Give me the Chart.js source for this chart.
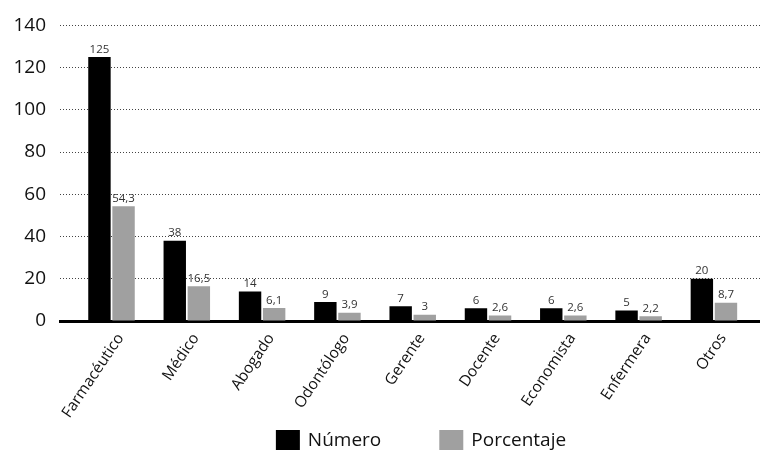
<!DOCTYPE html>
<html>
<head>
<meta charset="utf-8">
<script src="https://cdn.jsdelivr.net/npm/chart.js@4/dist/chart.umd.min.js"></script>
<style>
  html, body { margin: 0; padding: 0; background: #fff; }
  #wrap { width: 760px; height: 450px; position: relative; }
</style>
</head>
<body>
<div id="wrap"><canvas id="c" width="760" height="450"></canvas></div>
<script>
// Profesiones y sus valores
const categorias = ['Farmacéutico', 'Médico', 'Abogado', 'Odontólogo', 'Gerente', 'Docente', 'Economista', 'Enfermera', 'Otros'];
const numero = [125, 38, 14, 9, 7, 6, 6, 5, 20];
const porcentaje = [54.3, 16.5, 6.1, 3.9, 3, 2.6, 2.6, 2.2, 8.7];
const yTicks = [0, 20, 40, 60, 80, 100, 120, 140];
const nombresSeries = ['Número', 'Porcentaje'];
const colores = ['#000000', '#a0a0a0'];

const FONT = '"Open Sans", "Noto Sans", sans-serif';

const fmt = v => String(v).replace('.', ',');

// Value labels above each bar
const etiquetas = {
  id: 'etiquetas',
  afterDatasetsDraw(chart) {
    const ctx = chart.ctx;
    ctx.save();
    ctx.font = '400 11.5px ' + FONT;
    ctx.fillStyle = '#333';
    ctx.textAlign = 'center';
    ctx.textBaseline = 'bottom';
    chart.data.datasets.forEach((ds, di) => {
      chart.getDatasetMeta(di).data.forEach((bar, i) => {
        ctx.fillText(fmt(ds.data[i].y), bar.x, bar.y - 2);
      });
    });
    ctx.restore();
  }
};

// Legend below the axis labels
const leyenda = {
  id: 'leyenda',
  afterDraw(chart) {
    const ctx = chart.ctx;
    ctx.save();
    ctx.font = '400 19px ' + FONT;
    ctx.textBaseline = 'middle';
    ctx.textAlign = 'left';
    const box = 24, gap = 8, spacing = 58;
    const items = chart.data.datasets.map(ds => ({ text: ds.label, color: ds.backgroundColor, w: ctx.measureText(ds.label).width }));
    const total = items.reduce((s, it) => s + box + gap + it.w, 0) + spacing * (items.length - 1);
    let x = 421 - total / 2;
    const top = 430, h = 20;
    items.forEach(it => {
      ctx.fillStyle = it.color;
      ctx.fillRect(x, top, box, h);
      ctx.fillStyle = '#111';
      ctx.fillText(it.text, x + box + gap, top + h / 2 + 1);
      x += box + gap + it.w + spacing;
    });
    ctx.restore();
  }
};

new Chart(document.getElementById('c'), {
  type: 'bar',
  data: {
    datasets: [
      { label: nombresSeries[0], data: numero.map((v, i) => ({ x: i, y: v })), backgroundColor: colores[0] },
      { label: nombresSeries[1], data: porcentaje.map((v, i) => ({ x: i, y: v })), backgroundColor: colores[1] }
    ]
  },
  options: {
    responsive: false,
    animation: false,
    devicePixelRatio: 1,
    categoryPercentage: 0.64,
    barPercentage: 0.93,
    layout: { padding: { top: 22, right: 0, bottom: 0, left: 0 } },
    plugins: { legend: { display: false }, tooltip: { enabled: false } },
    scales: {
      x: {
        type: 'linear',
        offset: false,
        min: -0.684,
        max: 8.612,
        afterBuildTicks: s => { s.ticks = categorias.map((_, i) => ({ value: i })); },
        afterFit: s => { s.height = 129; },
        grid: { display: false, drawTicks: false, offset: false },
        border: { display: true, color: '#000', width: 3 },
        ticks: {
          autoSkip: false,
          minRotation: 56,
          maxRotation: 56,
          padding: 9,
          labelOffset: 9,
          color: '#111',
          font: { family: FONT, size: 15.5, weight: '400' },
          callback: v => categorias[v]
        }
      },
      y: {
        min: 0,
        max: 140,
        afterBuildTicks: s => { s.ticks = yTicks.map(v => ({ value: v })); },
        afterFit: s => { s.width = 60; },
        border: { display: false, dash: [1, 2] },
        grid: { color: '#444', lineWidth: 1, drawTicks: false },
        ticks: {
          padding: 14,
          color: '#111',
          font: { family: FONT, size: 19, weight: '400' }
        }
      }
    }
  },
  plugins: [etiquetas, leyenda]
});
</script>
</body>
</html>
